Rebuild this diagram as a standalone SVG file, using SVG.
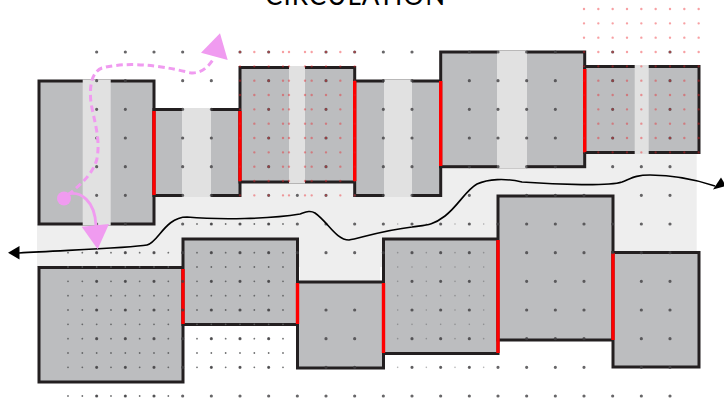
<svg xmlns="http://www.w3.org/2000/svg" width="724" height="401" viewBox="0 0 724 401">
<style>
.room{fill:#bcbdbf;stroke:#231f20;stroke-width:3}
.band{fill:#e1e1e1}
.door{stroke:#ff0000;stroke-width:3.4;fill:none}
.big,.small,.faint,.red,.redgap{fill:none;stroke-linecap:round}
.big{stroke:#414042;stroke-opacity:.8;stroke-width:3.2;stroke-dasharray:0 28.6667}
.small{stroke:#58595b;stroke-opacity:.85;stroke-width:1.8;stroke-dasharray:0 14.3333}
.faint{stroke:#58595b;stroke-opacity:.45;stroke-width:1.6;stroke-dasharray:0 14.3333}
.red{stroke:#ed1c24;stroke-opacity:.42;stroke-width:2.4;stroke-dasharray:0 14.3333}
.curve{fill:none;stroke:#000;stroke-width:1.6}
.pink{fill:none;stroke:#f09bf0;stroke-width:2.8}
.pinkdash{fill:none;stroke:#f09bf0;stroke-width:3;stroke-dasharray:6.500 4}
.pinkfill{fill:#f09bf0}
.title{font-family:"Lato","Liberation Sans",sans-serif;font-weight:400;font-size:26px;fill:#000}
</style>
<text class="title" x="355" y="4.5" text-anchor="middle" textLength="180" lengthAdjust="spacing">CIRCULATION</text>
<path id="corridor" fill="#eeeeee" d="M37 224H154V152H696.7V267H300V282H380V267H37Z"/>
<g id="room-t1"><rect class="room" x="39" y="81" width="115" height="143"/><rect class="band" x="82.7" y="79.500" width="28" height="146"/></g>
<g id="room-t2"><rect class="room" x="154" y="109.500" width="86" height="86"/><rect class="band" x="182" y="108" width="29" height="89"/></g>
<g id="room-t3"><rect class="room" x="240" y="67.500" width="114.700" height="114.500"/><rect class="band" x="289" y="66" width="16" height="117.500"/></g>
<g id="room-t4"><rect class="room" x="354.700" y="81" width="86" height="114.500"/><rect class="band" x="384" y="79.500" width="28" height="117.500"/></g>
<g id="room-t5"><rect class="room" x="440.700" y="52" width="144" height="114.700"/><rect class="band" x="497" y="50.500" width="30" height="117.700"/></g>
<g id="room-t6"><rect class="room" x="584.700" y="66.500" width="114.300" height="86"/><rect class="band" x="634.700" y="65" width="14" height="89"/></g>
<g id="room-b1"><rect class="room" x="39" y="267.500" width="144" height="114.500"/></g>
<g id="room-b2"><rect class="room" x="183" y="239" width="114.500" height="85.500"/></g>
<g id="room-b3"><rect class="room" x="297.500" y="282" width="86" height="86"/></g>
<g id="room-b4"><rect class="room" x="383.500" y="239" width="114.500" height="114.500"/></g>
<g id="room-b5"><rect class="room" x="498" y="196" width="115" height="144"/></g>
<g id="room-b6"><rect class="room" x="613" y="252.500" width="86" height="114.500"/></g>
<path id="doors" class="door" d="M154 111V195M240 111V181M354.700 81V181M440.700 81V166M584.700 69V152M183 269V324M297.500 283V324M383.500 283V353M498 240V353M613 253V340"/>
<g id="dots">
<path class="small" d="M68 252.667H169M197 252.667H284M68 267H169M197 267H284M68 281.333H169M197 281.333H284M68 295.667H169M197 295.667H284M68 310H169M197 310H284M68 324.333H169M197 324.333H284M68 338.667H169M197 338.667H284M68 353H169M197 353H284M68 367.333H169M197 367.333H284M68 396H169M197 224H284"/>
<path class="faint" d="M397.667 224H484M397.667 252.667H484M397.667 267H484M397.667 281.333H484M397.667 295.667H484M397.667 310H484M397.667 324.333H484M397.667 338.667H484M397.667 367.333H484"/>
<path class="big" d="M96.667 52V397M125.333 52V397M154 52V53M154 252.667V368M154 396V397M182.667 52V397M211.333 80.667V397M240 52V53M240 224V368M240 396V397M268.667 52V397M297.333 195.333V253M297.333 396V397M326 52V253M326 310V397M354.667 52V53M354.667 195.333V253M354.667 310V397M383.333 52V253M383.333 396V397M412 52V397M440.667 224V397M469.333 52V397M498 52V167M498 224V225M498 367.333V397M526.667 52V167M526.667 195.333V397M555.333 52V167M555.333 195.333V397M584 195.333V397M612.667 52V167M612.667 224V253M612.667 396V397M641.333 166.667V397M670 52V397"/>
<path class="red" d="M240 52V196M254.333 52V196M268.667 52V196M283 52V196M289 52V196M305 52V196M311.667 52V196M326 52V196M340.333 52V196M354.667 52V196M584 9V153M598.333 9V153M612.667 9V153M627 9V153M641.333 9V153M655.667 9V153M670 9V153M684.333 9V153M698.667 9V153"/>
</g>
<g id="connectors">
<path class="curve" d="M19 253C70 250 130 248 147 245C158 243 165 217 187 217C220 220 270 219 300 214C306 212 310 210 315 213C328 222 336 240 349 240C360 238 385 230 412 227C425 225 432 226 445 216C458 206 466 190 477 184C488 179 505 178 522 182C560 185 610 186 622 182C632 178 636 175 650 175C675 175 700 181 715 186"/>
<path d="M8 252.700L19.500 246V259.500Z"/>
<path d="M726 186L713 189.500L721 177.500Z"/>
<circle class="pinkfill" cx="64" cy="198.500" r="7"/>
<path class="pink" d="M68 194C80 191 95 200 96 226"/>
<path class="pinkfill" d="M81.700 226.700L109 224L97.700 249.300Z"/>
<path class="pinkdash" d="M68 195C80 185 92 175 96.700 160C101 140 94 120 91 103C89 85 92 72 102 68C125 62 155 64 190 72.700C200 74 208 68 214 58"/>
<path class="pinkfill" d="M201 52.700L220 33.300L227.700 60Z"/>
</g>
</svg>
